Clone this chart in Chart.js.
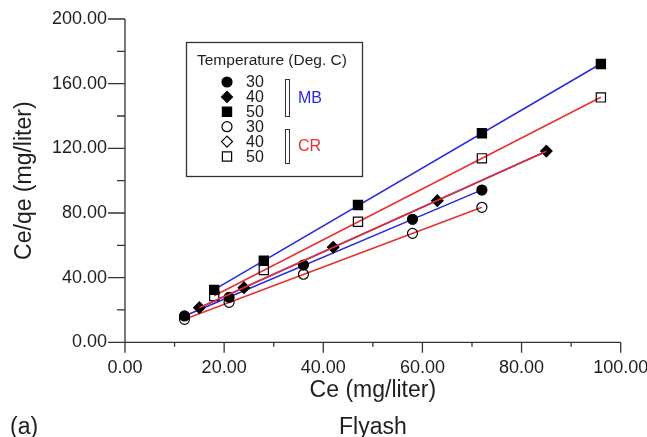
<!DOCTYPE html>
<html>
<head>
<meta charset="utf-8">
<title>Flyash</title>
<script src="https://cdn.jsdelivr.net/npm/chart.js"></script>
<style>
html,body{margin:0;padding:0;background:#fff;}
#grafico_wrap{width:647px;height:437px;}
</style>
</head>
<body>
<div id="grafico_wrap"><canvas id="grafico_flyash" width="647" height="437"></canvas></div>
<script>
// datos (Ce vs Ce/qe)
var ce_30 = [12, 21, 36, 58, 72];
var mb_30 = [16.3, 27.8, 47.8, 76.1, 94.2];
var cr_30 = [14.2, 24.7, 42.1, 67.4, 83.5];
var ce_40 = [15, 24, 42, 63, 85];
var mb_40 = [21.4, 33.8, 58.8, 87.6, 118.3];
var cr_40 = [21.4, 33.8, 58.8, 87.6, 118.3];
var ce_50 = [18, 28, 47, 72, 96];
var mb_50 = [32.4, 50.5, 84.9, 129.3, 172.2];
var cr_50 = [28.6, 44.7, 74.6, 113.8, 151.5];
var x_ticks = [0, 20, 40, 60, 80, 100];
var y_ticks = [0, 40, 80, 120, 160, 200];
var legend_title = "Temperature (Deg. C)";
var legend_labels = ["30", "40", "50", "30", "40", "50"];
var group_labels = ["MB", "CR"];
var x_title = ["Ce (mg/liter)", "Flyash"];
var y_title = "Ce/qe (mg/liter)";
var panel_label = "(a)";

var fuente = "'Liberation Sans', Arial, Helvetica, sans-serif";
var color_texto = "#1e1e1e";
var azul = "rgb(40,40,225)";
var rojo = "rgb(232,48,48)";

function puntos(xs, ys){
	return xs.map(function(x, i){ return {x: x, y: ys[i]}; });
}
// recta de ajuste lineal entre el primer y el ultimo Ce
function recta(xs, ys){
	var n = xs.length, sx = 0, sy = 0, sxx = 0, sxy = 0;
	for(var i = 0; i < n; i++){
		sx += xs[i]; sy += ys[i]; sxx += xs[i]*xs[i]; sxy += xs[i]*ys[i];
	}
	var b = (n*sxy - sx*sy) / (n*sxx - sx*sx);
	var a = (sy - b*sx) / n;
	var x0 = Math.min.apply(null, xs), x1 = Math.max.apply(null, xs);
	return [{x: x0, y: a + b*x0}, {x: x1, y: a + b*x1}];
}
function serie_linea(xs, ys, color, order){
	return {data: recta(xs, ys), showLine: true, borderColor: color, borderWidth: 1.5,
		pointRadius: 0, fill: false, order: order};
}
function serie_puntos(xs, ys, estilo, radio, relleno){
	return {data: puntos(xs, ys), showLine: false, pointStyle: estilo, pointRadius: radio,
		pointBackgroundColor: relleno ? "#000" : "rgba(0,0,0,0)", pointBorderColor: "#000",
		pointBorderWidth: 1.2, order: 1};
}

var marcadores = [
	serie_puntos(ce_30, mb_30, "circle", 5, true),
	serie_puntos(ce_40, mb_40, "rectRot", 5.5, true),
	serie_puntos(ce_50, mb_50, "rect", 6.5, true),
	serie_puntos(ce_30, cr_30, "circle", 5, false),
	serie_puntos(ce_40, cr_40, "rectRot", 5.5, false),
	serie_puntos(ce_50, cr_50, "rect", 6.5, false)
];
var lineas = [
	serie_linea(ce_30, mb_30, azul, 2),
	serie_linea(ce_40, mb_40, azul, 2),
	serie_linea(ce_50, mb_50, azul, 2),
	serie_linea(ce_30, cr_30, rojo, 2),
	serie_linea(ce_40, cr_40, rojo, 0),
	serie_linea(ce_50, cr_50, rojo, 2)
];

var plugin_ejes = {
	id: "ejes",
	beforeDatasetsDraw: function(chart){
		var ctx = chart.ctx, area = chart.chartArea;
		var sx = chart.scales.x, sy = chart.scales.y;
		ctx.save();
		ctx.strokeStyle = "#333";
		ctx.lineWidth = 1.3;
		ctx.beginPath();
		ctx.moveTo(area.left, area.bottom); ctx.lineTo(area.right, area.bottom);
		ctx.moveTo(area.left, area.top); ctx.lineTo(area.left, area.bottom);
		x_ticks.forEach(function(v, i){
			var px = sx.getPixelForValue(v);
			ctx.moveTo(px, area.bottom); ctx.lineTo(px, area.bottom + 10.5);
			if(i > 0){
				var pm = sx.getPixelForValue((v + x_ticks[i-1]) / 2);
				ctx.moveTo(pm, area.bottom); ctx.lineTo(pm, area.bottom + 4.5);
			}
		});
		y_ticks.forEach(function(v, i){
			var py = sy.getPixelForValue(v);
			ctx.moveTo(area.left, py); ctx.lineTo(area.left - 17, py);
			if(i > 0){
				var pm = sy.getPixelForValue((v + y_ticks[i-1]) / 2);
				ctx.moveTo(area.left, pm); ctx.lineTo(area.left - 8, pm);
			}
		});
		ctx.stroke();
		ctx.restore();
	}
};

var plugin_leyenda = {
	id: "leyenda",
	afterDraw: function(chart){
		var ctx = chart.ctx;
		ctx.save();
		ctx.strokeStyle = "#333";
		ctx.lineWidth = 1.3;
		ctx.strokeRect(186.5, 42.5, 176, 134);
		ctx.fillStyle = color_texto;
		ctx.textBaseline = "middle";
		ctx.textAlign = "left";
		ctx.font = "15.5px " + fuente;
		ctx.fillText(legend_title, 197, 61);
		ctx.font = "16px " + fuente;
		marcadores.forEach(function(ds, i){
			var y = 82 + i * 14.9;
			ctx.fillStyle = ds.pointBackgroundColor;
			ctx.strokeStyle = "#000";
			ctx.lineWidth = 1.2;
			Chart.helpers.drawPoint(ctx, {pointStyle: ds.pointStyle, radius: ds.pointRadius, borderWidth: 1.2, rotation: 0}, 227, y);
			ctx.fillStyle = color_texto;
			ctx.fillText(legend_labels[i], 246, y + 1);
		});
		ctx.strokeStyle = "#333";
		ctx.lineWidth = 1;
		ctx.strokeRect(285.5, 79.5, 4, 37);
		ctx.strokeRect(285.5, 129.5, 4, 34);
		ctx.font = "16px " + fuente;
		ctx.fillStyle = azul;
		ctx.fillText(group_labels[0], 298, 99);
		ctx.fillStyle = rojo;
		ctx.fillText(group_labels[1], 298, 147);
		ctx.fillStyle = color_texto;
		ctx.font = "23px " + fuente;
		ctx.fillText(panel_label, 10, 428);
		ctx.restore();
	}
};

new Chart(document.getElementById("grafico_flyash"), {
	type: "scatter",
	data: {datasets: lineas.concat(marcadores)},
	plugins: [plugin_ejes, plugin_leyenda],
	options: {
		responsive: false,
		animation: false,
		devicePixelRatio: 1,
		layout: {autoPadding: false, padding: {top: 19, right: 26.3, bottom: 0, left: 0}},
		plugins: {legend: {display: false}, tooltip: {enabled: false}},
		scales: {
			x: {
				type: "linear", min: 0, max: 100,
				afterBuildTicks: function(s){ s.ticks = x_ticks.map(function(v){ return {value: v}; }); },
				afterFit: function(s){ s.height = 437 - 342.3; s.paddingLeft = 0; s.paddingRight = 0; },
				grid: {display: false, drawTicks: false, tickLength: 0},
				border: {display: false},
				ticks: {padding: 15, color: color_texto, font: {family: fuente, size: 18}, maxRotation: 0, autoSkip: false,
					callback: function(v){ return Number(v).toFixed(2); }},
				title: {display: true, text: x_title, color: color_texto,
					font: {family: fuente, size: 23, lineHeight: 1.6}, padding: {top: 0, bottom: -8.6}}
			},
			y: {
				type: "linear", min: 0, max: 200,
				afterBuildTicks: function(s){ s.ticks = y_ticks.map(function(v){ return {value: v}; }); },
				afterFit: function(s){ s.width = 125; s.paddingTop = 0; s.paddingBottom = 0; },
				grid: {display: false, drawTicks: false, tickLength: 0},
				border: {display: false},
				ticks: {padding: 18, color: color_texto, font: {family: fuente, size: 18}, autoSkip: false,
					callback: function(v){ return Number(v).toFixed(2); }},
				title: {display: true, text: y_title, color: color_texto,
					font: {family: fuente, size: 23}, padding: {top: 11, bottom: 0}}
			}
		}
	}
});
</script>
</body>
</html>
